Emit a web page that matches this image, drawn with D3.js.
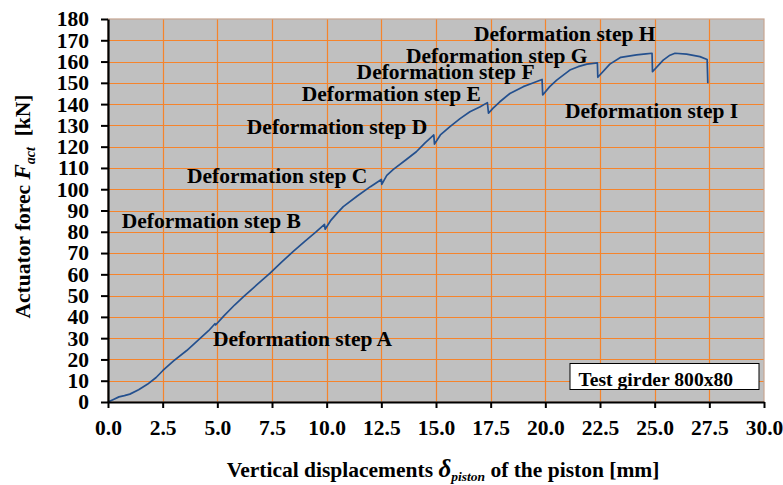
<!DOCTYPE html>
<html>
<head>
<meta charset="utf-8">
<script src="https://cdn.jsdelivr.net/npm/d3@7"></script>
<style>
  html, body { margin: 0; padding: 0; background: #ffffff; }
  svg { display: block; }
  text { font-family: "Liberation Serif", "Times New Roman", serif; font-weight: bold; fill: #000; }
</style>
</head>
<body>
<svg id="chart" width="783" height="485"></svg>
<script>
// ---- data ----
const displacement = [0, 0.25, 0.5, 0.75, 1.0, 1.4, 1.8, 2.2, 2.5, 3.0, 3.6, 4.2, 4.6, 4.89, 4.92,
  5.3, 5.8, 6.2, 6.8, 7.4, 7.95, 8.5, 9.0, 9.5, 9.9, 9.93,
  10.2, 10.5, 10.76, 11.4, 12.0, 12.5, 12.52,
  12.75, 13.05, 13.6, 14.1, 14.5, 14.9, 14.93,
  15.2, 15.64, 16.1, 16.55, 17.0, 17.35, 17.4,
  17.6, 17.92, 18.38, 18.99, 19.4, 19.85, 19.88,
  20.2, 20.52, 21.12, 21.5, 21.9, 22.38, 22.4,
  22.95, 23.45, 24.17, 24.6, 24.88, 24.9,
  25.39, 25.7, 25.93, 26.46, 27.07, 27.4, 27.43];
const force = [0, 1.2, 2.4, 3.0, 3.7, 5.8, 8.3, 11.5, 14.7, 19.3, 24.2, 29.8, 33.5, 36.8, 36.2,
  40.5, 45.7, 49.5, 55.0, 60.5, 65.9, 71.0, 75.5, 79.8, 83.5, 81.2,
  85.5, 89.0, 91.8, 96.8, 101.2, 104.6, 102.3,
  106.5, 109.3, 113.6, 117.6, 121.8, 125.5, 121.2,
  125.5, 129.4, 133.2, 136.4, 138.6, 140.7, 135.7,
  138.0, 141.1, 145.0, 148.2, 149.8, 151.6, 144.3,
  148.2, 151.3, 156.0, 157.6, 158.8, 159.4, 152.6,
  158.8, 162.0, 163.1, 163.6, 163.9, 155.2,
  160.7, 163.0, 163.9, 163.5, 162.3, 161.0, 149.8];
const xTicks = [0, 2.5, 5, 7.5, 10, 12.5, 15, 17.5, 20, 22.5, 25, 27.5, 30];
const yTicks = [0, 10, 20, 30, 40, 50, 60, 70, 80, 90, 100, 110, 120, 130, 140, 150, 160, 170, 180];
const stepLabels = ["Deformation step A", "Deformation step B", "Deformation step C",
  "Deformation step D", "Deformation step E", "Deformation step F",
  "Deformation step G", "Deformation step H", "Deformation step I"];
// label anchors (left edge, baseline) in data units
const stepLabelX = [4.80, 0.63, 3.61, 6.35, 8.86, 11.37, 13.63, 16.74, 20.9];
const stepLabelF = [26.3, 81.6, 102.9, 125.9, 141.4, 151.6, 159.4, 169.8, 133.3];
const legendText = "Test girder 800x80";

// ---- layout ----
const svg = d3.select("#chart");
const margin = { left: 108, top: 19, right: 19, bottom: 83 };
const W = 783 - margin.left - margin.right;   // 656
const H = 485 - margin.top - margin.bottom;   // 383

const x = d3.scaleLinear().domain([0, 30]).range([0, W]);
const y = d3.scaleLinear().domain([0, 180]).range([H, 0]);

const g = svg.append("g").attr("transform", `translate(${margin.left},${margin.top})`);

// plot background
g.append("rect").attr("x", 0).attr("y", 0).attr("width", W).attr("height", H)
  .attr("fill", "#c0c0c0");

// gridlines
const gridColor = "#f5842c";
g.append("g").selectAll("line.h").data(yTicks.filter(v => v > 0 && v < 180)).join("line")
  .attr("x1", 0).attr("x2", W)
  .attr("y1", d => Math.round(y(d)) + 0.5).attr("y2", d => Math.round(y(d)) + 0.5)
  .attr("stroke", gridColor).attr("stroke-width", 1.2);
g.append("g").selectAll("line.v").data(xTicks.filter(v => v > 0 && v < 30)).join("line")
  .attr("y1", 0).attr("y2", H)
  .attr("x1", d => Math.round(x(d)) + 0.5).attr("x2", d => Math.round(x(d)) + 0.5)
  .attr("stroke", gridColor).attr("stroke-width", 1.2);

// plot border (top / right)
g.append("rect").attr("x", 0).attr("y", 0).attr("width", W).attr("height", H)
  .attr("fill", "none").attr("stroke", "#c6a591").attr("stroke-width", 1.2);

// curve
const pts = displacement.map((d, i) => [d, force[i]]);
g.append("path").datum(pts)
  .attr("d", d3.line().x(d => x(d[0])).y(d => y(d[1])))
  .attr("fill", "none").attr("stroke", "#24508e").attr("stroke-width", 1.7)
  .attr("stroke-linejoin", "round");

// step labels
g.append("g").selectAll("text").data(stepLabels).join("text")
  .attr("x", (d, i) => x(stepLabelX[i]))
  .attr("y", (d, i) => y(stepLabelF[i]))
  .attr("font-size", "21.5px")
  .text(d => d);

// legend box
const lg = g.append("g").attr("transform", `translate(${570 - margin.left},${363.5 - margin.top})`);
lg.append("rect").attr("width", 189).attr("height", 26)
  .attr("fill", "#ffffff").attr("stroke", "#000").attr("stroke-width", 1);
lg.append("text").attr("x", 8.5).attr("y", 22.5).attr("font-size", "19.6px").text(legendText);

// axes
const yAxis = g.append("g")
  .call(d3.axisLeft(y).tickValues(yTicks).tickSize(7).tickSizeOuter(0).tickPadding(12).tickFormat(d3.format("d")));
const xAxis = g.append("g").attr("transform", `translate(0,${H})`)
  .call(d3.axisBottom(x).tickValues(xTicks).tickSize(6).tickSizeOuter(0).tickPadding(12).tickFormat(d3.format(".1f")));
[yAxis, xAxis].forEach(a => {
  a.select(".domain").attr("stroke", "#000").attr("stroke-width", 2.2);
  a.selectAll(".tick line").attr("stroke", "#000").attr("stroke-width", 2);
  a.selectAll(".tick text").attr("font-family", "'Liberation Serif', 'Times New Roman', serif")
    .attr("font-weight", "bold").attr("font-size", "21.5px").attr("fill", "#000");
});

// y axis title
const yt = svg.append("text")
  .attr("transform", `translate(30,${margin.top + H / 2 - 4}) rotate(-90)`)
  .attr("text-anchor", "middle").attr("font-size", "21.5px");
yt.append("tspan").text("Actuator forec ");
yt.append("tspan").attr("font-style", "italic").attr("font-size", "23px").text("F");
yt.append("tspan").attr("font-style", "italic").attr("font-size", "14px").attr("dy", 5).text("act");
yt.append("tspan").attr("dy", -5).text("\u00a0\u00a0[kN]");

// x axis title
const xt = svg.append("text")
  .attr("x", 443).attr("y", 477)
  .attr("text-anchor", "middle").attr("font-size", "21.5px");
xt.append("tspan").text("Vertical displacements ");
xt.append("tspan").attr("font-style", "italic").attr("font-size", "25px").text("\u03b4");
xt.append("tspan").attr("font-style", "italic").attr("font-size", "13.5px").attr("dy", 4).text("piston");
xt.append("tspan").attr("dy", -4).text(" of the piston [mm]");
</script>
</body>
</html>
